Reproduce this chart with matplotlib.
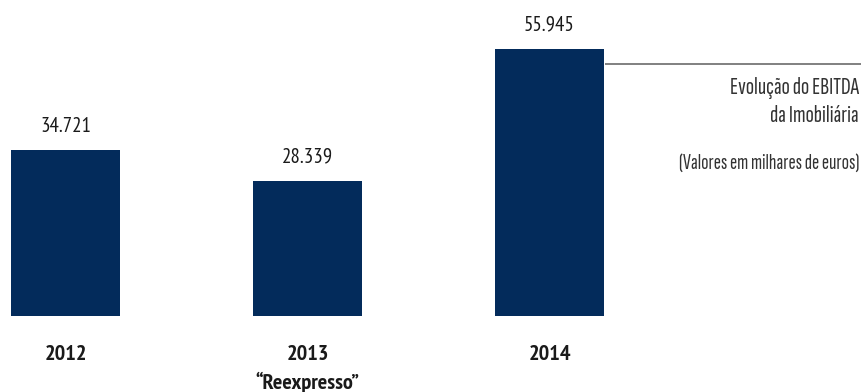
import matplotlib
matplotlib.use("Agg")
import matplotlib.pyplot as plt

years = ["2012", "2013", "2014"]
sublabels = ["", "\u201cReexpresso\u201d", ""]
values = [34.721, 28.339, 55.945]
value_labels = ["34.721", "28.339", "55.945"]

plt.rcParams["font.family"] = ["PT Sans Narrow", "Roboto Condensed", "DejaVu Sans"]
note_font = ["Sofia Sans Extra Condensed", "PT Sans Narrow", "DejaVu Sans"]

bar_color = "#032b5b"
W, H = 862, 392
fig = plt.figure(figsize=(W / 100, H / 100), dpi=100)
ax = fig.add_axes([0, 0, 1, 1])

px_x = 242.0          # pixels per category step
x0 = 65.5             # pixel centre of first bar
px_y = 4.78           # pixels per unit value
base = 76.0           # baseline pixel height from bottom
ax.set_xlim(-x0 / px_x, (W - x0) / px_x)
ax.set_ylim(-base / px_y, (H - base) / px_y)
ax.axis("off")

xs = list(range(len(years)))
ax.bar(xs, values, width=109 / px_x, color=bar_color)

for x, v, lab in zip(xs, values, value_labels):
    ax.annotate(lab, (x, v), xytext=(0, 17), textcoords="offset points",
                ha="center", va="center", fontsize=15, color="#1a1a1a")

for x, yr, sub in zip(xs, years, sublabels):
    ax.text(x, 1 - 354 / H, yr, transform=ax.get_xaxis_transform(),
            ha="center", va="center", fontsize=16, fontweight="bold", color="#1a1a1a")
    if sub:
        ax.text(x, 1 - 382 / H, sub, transform=ax.get_xaxis_transform(),
                ha="center", va="center", fontsize=16, fontweight="bold", color="#1a1a1a")

ax.plot([605 / W, 1.0], [1 - 63.5 / H, 1 - 63.5 / H], transform=ax.transAxes,
        color="#6b6b6b", lw=1.2, solid_capstyle="butt")

rx = 859 / W
ax.text(rx, 1 - 88 / H, "Evolução do EBITDA", transform=ax.transAxes, family=note_font,
        ha="right", va="center", fontsize=17.5, color="#333333")
ax.text(rx, 1 - 116 / H, "da Imobiliária", transform=ax.transAxes, family=note_font,
        ha="right", va="center", fontsize=17.5, color="#333333")
ax.text(rx, 1 - 163 / H, "(Valores em milhares de euros)", transform=ax.transAxes, family=note_font,
        ha="right", va="center", fontsize=15.5, color="#333333")

fig.savefig("out.png", dpi=100)
